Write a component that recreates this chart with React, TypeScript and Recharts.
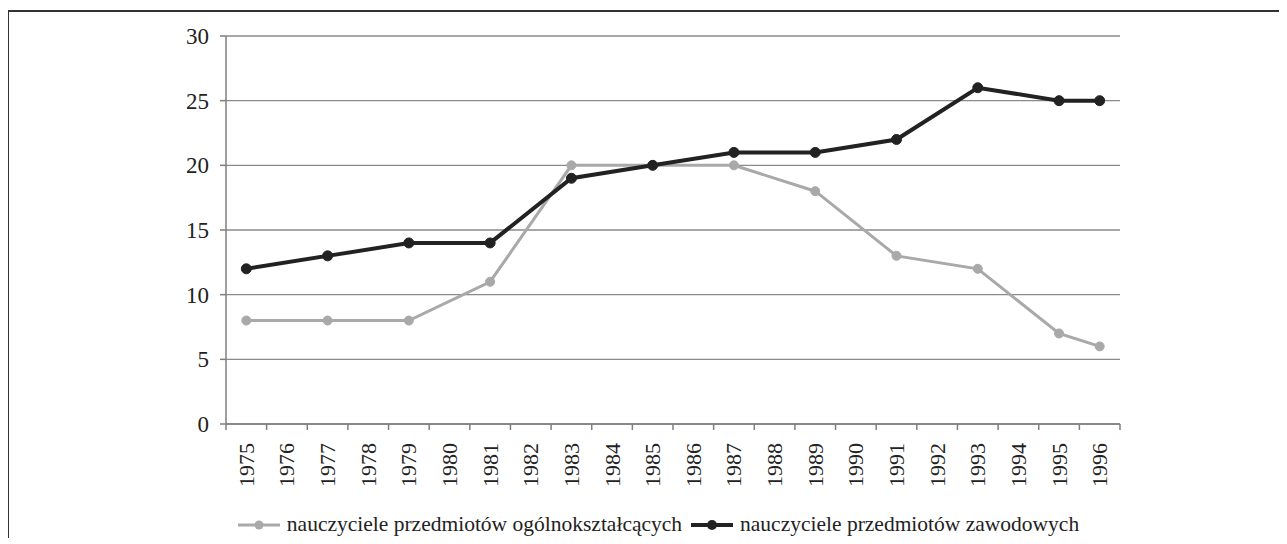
import React from 'react';
import { LineChart, Line, XAxis, YAxis, CartesianGrid, Legend } from 'recharts';

const years = [
  '1975', '1976', '1977', '1978', '1979', '1980', '1981', '1982', '1983', '1984', '1985',
  '1986', '1987', '1988', '1989', '1990', '1991', '1992', '1993', '1994', '1995', '1996',
];
const ogolne = [8, null, 8, null, 8, null, 11, null, 20, null, 20, null, 20, null, 18, null, 13, null, 12, null, 7, 6];
const zawodowe = [12, null, 13, null, 14, null, 14, null, 19, null, 20, null, 21, null, 21, null, 22, null, 26, null, 25, 25];
const yTicks = [0, 5, 10, 15, 20, 25, 30];

const seriesNames = {
  ogolne: 'nauczyciele przedmiotów ogólnokształcących',
  zawodowe: 'nauczyciele przedmiotów zawodowych',
};
const colors = { ogolne: '#a9a9a9', zawodowe: '#222222' };

// category boundaries, where the x-axis tick marks sit
const boundaries = [...years.map((_, i) => i), years.length];

const data = years.map((year, i) => ({
  year,
  pos: i + 0.5,
  ogolne: ogolne[i],
  zawodowe: zawodowe[i],
}));

const FONT = '"Liberation Serif", "Times New Roman", serif';

function YearTick(props: any) {
  const { x, y, payload } = props;
  return (
    <text
      x={x}
      y={y}
      transform={`rotate(-90, ${x}, ${y})`}
      textAnchor="end"
      dominantBaseline="central"
      style={{ fontFamily: FONT }}
      fontSize={22}
      fill="#222"
    >
      {payload.value}
    </text>
  );
}

function LegendContent() {
  const items = [
    { key: 'ogolne', color: colors.ogolne, w: 3, r: 4.5 },
    { key: 'zawodowe', color: colors.zawodowe, w: 4, r: 5 },
  ] as const;
  return (
    <div
      style={{
        display: 'flex',
        justifyContent: 'center',
        alignItems: 'center',
        gap: 8,
        paddingLeft: 30,
        paddingTop: 4,
      }}
    >
      {items.map((it) => (
        <div key={it.key} style={{ display: 'flex', alignItems: 'center' }}>
          <svg width={44} height={14} style={{ marginRight: 6 }}>
            <line x1={1} y1={7} x2={43} y2={7} stroke={it.color} strokeWidth={it.w} />
            <circle cx={22} cy={7} r={it.r} fill={it.color} />
          </svg>
          <span style={{ fontFamily: FONT, fontSize: 21.5, color: '#222' }}>
            {seriesNames[it.key]}
          </span>
        </div>
      ))}
    </div>
  );
}

export default function App() {
  return (
    <div style={{ position: 'relative', fontFamily: FONT }}>
      <div
        style={{
          position: 'absolute',
          left: -1,
          top: 2,
          width: 1300,
          height: 600,
          border: '2px solid #333',
          boxSizing: 'border-box',
        }}
      />
      <LineChart
        width={1271}
        height={530}
        data={data}
        margin={{ top: 28, right: 159, left: 158, bottom: 0 }}
        style={{ fontFamily: FONT }}
      >
        <CartesianGrid vertical={false} stroke="#8a8a8a" strokeWidth={1.3} />
        <XAxis
          xAxisId="grid"
          dataKey="pos"
          type="number"
          domain={[0, years.length]}
          allowDataOverflow
          ticks={boundaries}
          tick={() => <g />}
          height={6}
          stroke="#7f7f7f"
          strokeWidth={1.5}
          tickSize={6}
        />
        <XAxis
          xAxisId="years"
          dataKey="year"
          scale="band"
          interval={0}
          axisLine={false}
          tickLine={false}
          height={78}
          tickMargin={7}
          tick={<YearTick />}
        />
        <YAxis
          domain={[0, 30]}
          ticks={yTicks}
          width={60}
          stroke="#7f7f7f"
          strokeWidth={1.5}
          tickSize={6}
          tickMargin={11}
          tick={{ fontFamily: FONT, fontSize: 23, fill: '#222' }}
        />
        <Legend verticalAlign="bottom" height={30} content={<LegendContent />} />
        <Line
          xAxisId="years"
          dataKey="ogolne"
          name={seriesNames.ogolne}
          stroke={colors.ogolne}
          strokeWidth={3}
          connectNulls
          dot={{ r: 4.5, fill: colors.ogolne, stroke: colors.ogolne, strokeWidth: 1 }}
          isAnimationActive={false}
        />
        <Line
          xAxisId="years"
          dataKey="zawodowe"
          name={seriesNames.zawodowe}
          stroke={colors.zawodowe}
          strokeWidth={4}
          connectNulls
          dot={{ r: 5, fill: colors.zawodowe, stroke: colors.zawodowe, strokeWidth: 1 }}
          isAnimationActive={false}
        />
      </LineChart>
    </div>
  );
}
